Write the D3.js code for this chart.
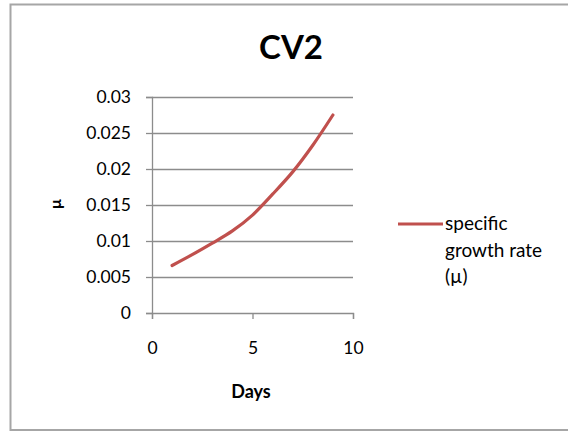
<!DOCTYPE html>
<html>
<head>
<meta charset="utf-8">
<script src="https://cdn.jsdelivr.net/npm/d3@7"></script>
<style>
  body { margin: 0; background: #fff; }
  svg { display: block; font-family: Lato, "Open Sans", sans-serif; }
</style>
</head>
<body>
<div id="chart"></div>
<script>
const width = 568;
const height = 433;

// data
const days = [1, 2, 3, 4, 5, 6, 7, 8, 9];
const growthRate = [0.0066, 0.0081, 0.0097, 0.0114, 0.0136, 0.0165, 0.0196, 0.0233, 0.0275];
const yTicks = [0, 0.005, 0.01, 0.015, 0.02, 0.025, 0.03];
const xTicks = [0, 5, 10];
const seriesName = ["specific", "growth rate", "(\u00b5)"];

const svg = d3.select("#chart")
  .append("svg")
  .attr("width", width)
  .attr("height", height);

// chart frame
svg.append("rect")
  .attr("x", 10.5).attr("y", 4.5)
  .attr("width", 570).attr("height", 425.5)
  .attr("fill", "#fff")
  .attr("stroke", "#a6a6a6")
  .attr("stroke-width", 2);

const x = d3.scaleLinear().domain([0, 10]).range([152, 353]);
const y = d3.scaleLinear().domain([0, 0.03]).range([313, 97]);

// gridlines
svg.append("g")
  .selectAll("line")
  .data(yTicks.slice(1))
  .join("line")
  .attr("x1", x(0)).attr("x2", x(10))
  .attr("y1", d => Math.round(y(d)) + 0.5)
  .attr("y2", d => Math.round(y(d)) + 0.5)
  .attr("stroke", "#8c8c8c")
  .attr("stroke-width", 1.3);

const yAxis = svg.append("g")
  .attr("transform", `translate(${x(0)},0)`)
  .call(d3.axisLeft(y).tickValues(yTicks).tickSize(6).tickPadding(15)
    .tickFormat(d => d === 0 ? "0" : String(+d.toFixed(3))));

const xAxis = svg.append("g")
  .attr("transform", `translate(0,${y(0)})`)
  .call(d3.axisBottom(x).tickValues(xTicks).tickSize(6).tickPadding(23));

[yAxis, xAxis].forEach(a => {
  a.select(".domain").attr("stroke", "#8c8c8c").attr("stroke-width", 1.3);
  a.selectAll(".tick line").attr("stroke", "#8c8c8c").attr("stroke-width", 1.3);
  a.selectAll("text").attr("fill", "#000").attr("font-size", 17.5)
    .attr("font-family", "Lato, sans-serif");
});

// series line
const line = d3.line()
  .x((d, i) => x(days[i]))
  .y(d => y(d))
  .curve(d3.curveCatmullRom);

svg.append("path")
  .datum(growthRate)
  .attr("d", line)
  .attr("fill", "none")
  .attr("stroke", "#c0504d")
  .attr("stroke-width", 3.2)
  .attr("stroke-linecap", "round");

// title
svg.append("text")
  .attr("x", 291).attr("y", 59)
  .attr("text-anchor", "middle")
  .attr("font-size", 33)
  .attr("font-weight", "bold")
  .text("CV2");

// axis titles
svg.append("text")
  .attr("transform", "translate(61,204) rotate(-90)")
  .attr("text-anchor", "middle")
  .attr("font-size", 16)
  .attr("font-weight", "bold")
  .text("\u00b5");

svg.append("text")
  .attr("x", 251).attr("y", 398)
  .attr("text-anchor", "middle")
  .attr("font-size", 18)
  .attr("font-weight", "bold")
  .text("Days");

// legend
const legend = svg.append("g");
legend.append("line")
  .attr("x1", 398).attr("x2", 443)
  .attr("y1", 224).attr("y2", 224)
  .attr("stroke", "#c0504d")
  .attr("stroke-width", 3);

legend.selectAll("text")
  .data(seriesName)
  .join("text")
  .attr("x", 445)
  .attr("y", (d, i) => 230 + i * 26.5)
  .attr("font-size", 19)
  .attr("fill", "#000")
  .text(d => d);
</script>
</body>
</html>
